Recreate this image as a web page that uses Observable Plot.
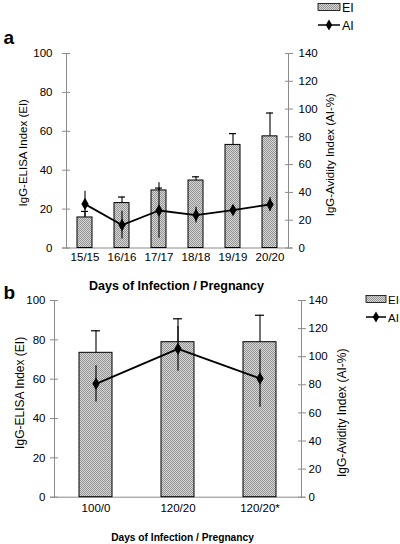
<!DOCTYPE html>
<html><head><meta charset="utf-8">
<script src="https://cdn.jsdelivr.net/npm/d3@7"></script>
<script src="https://cdn.jsdelivr.net/npm/@observablehq/plot@0.6"></script>
<style>
body{margin:0;background:#fff;}
#wrap{position:relative;width:400px;height:544px;overflow:hidden;font-family:"Liberation Sans",Arial,sans-serif;}
#wrap svg{position:absolute;left:0;}
</style></head><body><div id="wrap"></div>
<script>
// Panel a
const catsA = ["15/15","16/16","17/17","18/18","19/19","20/20"];
const eiA = [15.7, 23.1, 29.6, 34.7, 53.0, 57.4];
const eiErrA = [3.1, 3.1, 1.2, 1.9, 5.8, 12.0];
const aiA = [31.6, 16.5, 27.0, 23.7, 27.3, 31.3];
const aiErrA = [9.3, 10.0, 20.0, 5.7, 3.0, 5.0];
// Panel b
const catsB = ["100/0","120/20","120/20*"];
const eiB = [73.4, 78.8, 78.8];
const eiErrB = [11.2, 11.9, 13.7];
const aiB = [80.7, 105.6, 84.5];
const aiErrB = [12.9, 15.9, 20.4];
// Axes
const eiTicks = [0,20,40,60,80,100];
const aiTicks = [0,20,40,60,80,100,120,140];
const xTitle = "Days of Infection / Pregnancy";
const yTitleL = "IgG-ELISA Index (EI)";
const yTitleR = "IgG-Avidity Index (AI-%)";

const K = 100/140; // AI scale (0-140) mapped onto EI scale (0-100)
const gray = "#8c8c8c";
const FONT = "Liberation Sans, Arial, sans-serif";

function panel(p) {
  const rows = p.cats.map((c,i)=>({c, ei:p.ei[i], eiErr:p.eiErr[i], ai:p.ai[i], aiErr:p.aiErr[i]}));
  const svg = Plot.plot({
    width: 400, height: p.H,
    marginLeft: p.L, marginRight: p.R, marginTop: p.T, marginBottom: p.B,
    style: {background:"transparent", overflow:"visible", fontFamily: FONT, fontSize: p.fs+"px", color:"#000"},
    x: {type:"band", domain:p.cats, paddingInner:0.6, paddingOuter:0.3},
    y: {domain:[0,100]},
    marks: [
      Plot.frame({anchor:"left", stroke:gray}),
      Plot.frame({anchor:"right", stroke:gray}),
      Plot.ruleY([0], {stroke:gray, insetLeft:-4, insetRight:-4}),
      Plot.axisY({anchor:"left", ticks:eiTicks, tickSize:8, dx:4, tickPadding:p.padL, stroke:gray, fill:"#000", label:null}),
      Plot.axisY({anchor:"right", ticks:aiTicks.map(v=>v*K), tickFormat:d=>String(Math.round(d/K)), tickSize:8, dx:-4, tickPadding:p.padR, stroke:gray, fill:"#000", label:null}),
      Plot.axisX({tickSize:0, tickPadding:p.padX, fill:"#000", label:null}),
      Plot.barY(rows, {x:"c", y:"ei", fill:`url(#${p.id})`, stroke:"#000", strokeWidth:1}),
      Plot.ruleX(rows, {x:"c", y1:"ei", y2:d=>d.ei+d.eiErr, stroke:"#000", strokeWidth:1.1}),
      Plot.tickY(rows, {x:"c", y:d=>d.ei+d.eiErr, insetLeft:p.cap, insetRight:p.cap, stroke:"#000", strokeWidth:1.2}),
      Plot.ruleX(rows, {x:"c", y1:d=>(d.ai-d.aiErr)*K, y2:d=>(d.ai+d.aiErr)*K, stroke:"#000", strokeWidth:1.1}),
      Plot.lineY(rows, {x:"c", y:d=>d.ai*K, stroke:"#000", strokeWidth:1.8}),
      Plot.dot(rows, {x:"c", y:d=>d.ai*K, symbol:"diamond", r:3.8, fill:"#000", stroke:"none"}),
      Plot.text([yTitleL], {text:d=>d, frameAnchor:"left", textAnchor:"middle", lineAnchor:"middle", rotate:-90, dx:p.tl[0], dy:p.tl[1], fontSize:p.tfs, fill:"#000"}),
      Plot.text([yTitleR], {text:d=>d, frameAnchor:"right", textAnchor:"middle", lineAnchor:"middle", rotate:-90, dx:p.tr[0], dy:p.tr[1], fontSize:p.tfs, fill:"#000"}),
      Plot.text([xTitle], {text:d=>d, frameAnchor:"bottom", textAnchor:"middle", lineAnchor:"middle", dx:p.tx[0], dy:p.tx[1], fontSize:p.xfs, fontWeight:"bold", fill:"#000"}),
      Plot.text([p.letter], {text:d=>d, frameAnchor:"top-left", textAnchor:"start", lineAnchor:"bottom", dx:p.lt[0], dy:p.lt[1], fontSize:19, fontWeight:"bold", fill:"#000"}),
      Plot.text(["EI","AI"], {text:d=>d, frameAnchor:"top-left", textAnchor:"start", fontSize:p.lfs, fill:"#000"})
    ]
  });
  svg.style.top = p.top + "px";
  const s = d3.select(svg);
  const pat = s.insert("defs", ":first-child").append("pattern")
    .attr("id", p.id).attr("width", 2).attr("height", 2).attr("patternUnits", "userSpaceOnUse");
  pat.append("rect").attr("width", 2).attr("height", 2).attr("fill", "#d6d6d6");
  pat.append("rect").attr("width", 1).attr("height", 1).attr("fill", "#949494");
  pat.append("rect").attr("x", 1).attr("y", 1).attr("width", 1).attr("height", 1).attr("fill", "#949494");
  return svg;
}

const wrap = document.getElementById("wrap");
const cfgA = {id:"stipA", cats:catsA, ei:eiA, eiErr:eiErrA, ai:aiA, aiErr:aiErrA,
  H:300, L:66, R:112, T:53, B:52.5, top:0, fs:11.5, padL:10, padR:6, padX:5, cap:4,
  tfs:11.5, xfs:12.5, tl:[-43,2], tr:[42,4], tx:[-1,37.5], lt:[-63,-10], letter:"a",
  lg:[318,7,25], sw:22, lfs:12.5};
const cfgB = {id:"stipB", cats:catsB, ei:eiB, eiErr:eiErrB, ai:aiB, aiErr:aiErrB,
  H:264, L:54, R:99, T:20, B:47.3, top:280, fs:11.5, padL:5, padR:3, padX:7, cap:12,
  tfs:12, xfs:10.2, tl:[-34,-6], tr:[41,14], tx:[4.5,40.3], lt:[-51,-2], letter:"b",
  lg:[366,19,37], sw:20, lfs:11.5};

[cfgA, cfgB].forEach(cfg => {
  const svg = panel(cfg);
  wrap.appendChild(svg);
});

// Legend (swatch + line glyphs), with Plot text labels repositioned
function legend(svg, cfg) {
  const s = d3.select(svg);
  const [x0, yEI, yAI] = cfg.lg;
  const w = cfg.sw;
  const g = s.append("g");
  g.append("rect").attr("x", x0).attr("y", yEI-3.5).attr("width", w).attr("height", 7)
    .attr("fill", `url(#${cfg.id})`).attr("stroke", "#000").attr("stroke-width", 0.8);
  g.append("line").attr("x1", x0).attr("x2", x0+w).attr("y1", yAI).attr("y2", yAI)
    .attr("stroke", "#000").attr("stroke-width", 1.5);
  g.append("path").attr("d", d3.symbol(d3.symbolDiamond, 36)()).attr("transform", `translate(${x0+w/2},${yAI})`).attr("fill", "#000");
  const texts = s.selectAll("text").filter(function(){ return this.textContent === "EI" || this.textContent === "AI"; });
  texts.each(function(){
    const t = d3.select(this);
    const y = this.textContent === "EI" ? yEI : yAI;
    t.attr("transform", `translate(${x0+w+1.5},${y})`).attr("x", null).attr("y", null)
     .attr("dy", "0.35em").attr("text-anchor", "start");
  });
}
const svgs = wrap.querySelectorAll("svg");
legend(svgs[0], cfgA);
legend(svgs[1], cfgB);
</script>
</body></html>
